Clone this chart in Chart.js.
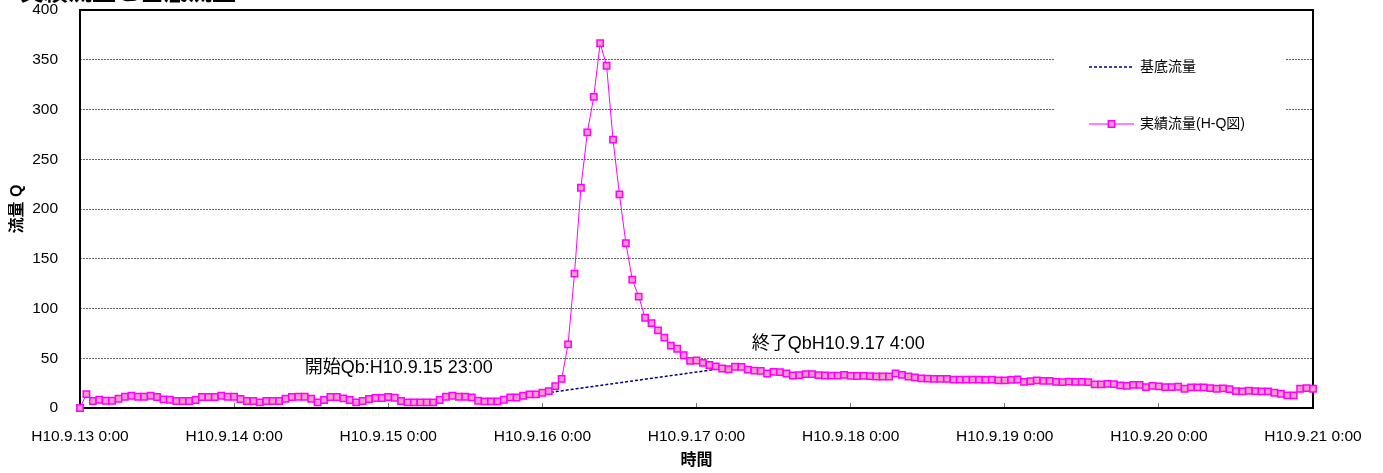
<!DOCTYPE html>
<html>
<head>
<meta charset="utf-8">
<script src="https://cdn.jsdelivr.net/npm/chart.js@4/dist/chart.umd.min.js"></script>
<style>
html,body{margin:0;padding:0;background:#fff;}
#wrap{width:1383px;height:473px;position:relative;}
</style>
</head>
<body>
<div id="wrap"><canvas id="c" width="1383" height="473"></canvas></div>
<script>
// ---- data (hourly, starting H10.9.13 0:00) ----
const chartTitle = '実績流量と基底流量';
const dayLabels = ['H10.9.13 0:00','H10.9.14 0:00','H10.9.15 0:00','H10.9.16 0:00','H10.9.17 0:00','H10.9.18 0:00','H10.9.19 0:00','H10.9.20 0:00','H10.9.21 0:00'];
const actualFlow = [
  0, 14, 7, 8.3, 7.3, 7.3, 9.3, 11.3, 12.3, 11.3, 11.3, 12.3, 11, 8.7, 8.3, 7, 7, 7, 8, 11, 11, 11, 12.3, 11.3,
  11.3, 9, 7, 7, 5.7, 7, 7, 7, 9.3, 11, 11.3, 11.3, 9.3, 5.7, 8, 11, 11, 9.7, 8, 5.7, 7, 9, 10, 10,
  11, 10.3, 7, 5.7, 5.7, 5.7, 5.7, 5.7, 8, 11.3, 12.3, 11.3, 11.3, 10.7, 7.3, 6.7, 6.7, 6.7, 8.3, 10.7, 10.5, 12.3, 13.7, 13.7,
  15.3, 17, 22, 29.3, 64, 135, 221.3, 277, 312.7, 366.7, 344, 269.7, 214.7, 165.7, 129, 112, 90.7, 85.3, 78, 70.7, 62.7, 59.5, 53, 47.3,
  47.7, 45.3, 43.2, 41.8, 39.7, 39, 41.5, 41.3, 38.5, 37.5, 37.3, 34.7, 36.3, 36, 34.7, 32.7, 33, 34, 34, 33, 32.7, 32.5, 32.5, 33.3,
  32.3, 32.2, 32.3, 32.1, 31.7, 31.7, 31.7, 34.7, 33.3, 31.7, 30.8, 29.8, 29.5, 29.3, 29.3, 29.3, 28.5, 28.5, 28.5, 28.5, 28.5, 28.3, 28.5, 27.8,
  27.7, 28.3, 28.7, 26.3, 27, 27.7, 27.3, 27.3, 26.3, 26, 26.5, 26.3, 26.3, 26, 23.7, 23.7, 24.3, 24, 22.7, 22.3, 23.3, 23.3, 21, 22.3,
  21.7, 21, 21, 21.3, 19.3, 20.7, 20.7, 20.7, 20, 19.3, 19.7, 19, 17, 16.7, 17.3, 17, 16.7, 16.7, 15.3, 14.3, 12.7, 12.7, 19.3, 20,
  19.3
];
const baseHours = [71, 100];
const baseFlow = [13.7, 39.7];
const seriesNames = ['基底流量', '実績流量(H-Q図)'];
const axisTitles = { x: '時間', y: '流量 Q' };
const notes = [
  { text: '開始Qb:H10.9.15 23:00', hour: 35.0, value: 40.2 },
  { text: '終了QbH10.9.17 4:00', hour: 104.6, value: 64.3 }
];

const FONT = "'Liberation Sans', 'Noto Sans CJK JP', Arial, sans-serif";

// chart title (its upper part sits above the canvas edge, as in the reference)
const titlePlugin = {
  id: 'topTitle',
  afterDraw(chart) {
    const { ctx } = chart;
    ctx.save();
    ctx.fillStyle = '#000';
    ctx.font = 'bold 24px ' + FONT;
    ctx.textBaseline = 'alphabetic';
    ctx.textAlign = 'left';
    ctx.fillText(chartTitle, 20, 0);
    ctx.restore();
  }
};

// frame around plot area
const framePlugin = {
  id: 'frame',
  beforeDatasetsDraw(chart) {
    const { ctx, chartArea: a } = chart;
    ctx.save();
    ctx.strokeStyle = '#000';
    ctx.lineWidth = 2;
    ctx.strokeRect(a.left, a.top, a.right - a.left, a.bottom - a.top);
    ctx.restore();
  }
};

// legend box inside plot area (top-right)
const legendPlugin = {
  id: 'innerLegend',
  afterDatasetsDraw(chart) {
    const { ctx, chartArea: a } = chart;
    const ds = chart.data.datasets;
    const x0 = a.right - 258, y0 = a.top + 28;
    ctx.save();
    ctx.fillStyle = '#fff';
    ctx.fillRect(x0, y0, 230, 112);
    const rows = [ds[1], ds[0]];
    const ys = [a.top + 57, a.top + 114];
    rows.forEach((d, i) => {
      const y = ys[i];
      const lx1 = a.right - 224, lx2 = a.right - 179;
      ctx.beginPath();
      ctx.strokeStyle = d.borderColor;
      ctx.lineWidth = d.borderWidth;
      ctx.setLineDash(d.borderDash || []);
      ctx.moveTo(lx1, y); ctx.lineTo(lx2, y);
      ctx.stroke();
      ctx.setLineDash([]);
      if (d.pointRadius > 0) {
        ctx.fillStyle = d.pointBackgroundColor;
        ctx.strokeStyle = d.pointBorderColor;
        ctx.lineWidth = d.pointBorderWidth;
        ctx.beginPath();
        const s = Math.SQRT1_2 * d.pointRadius;
        ctx.rect((lx1 + lx2) / 2 - s, y - s, 2 * s, 2 * s);
        ctx.fill(); ctx.stroke();
      }
      ctx.fillStyle = '#000';
      ctx.font = '14px ' + FONT;
      ctx.textBaseline = 'middle';
      ctx.textAlign = 'left';
      ctx.fillText(d.label, a.right - 173, y);
    });
    ctx.restore();
  }
};

// text annotations placed in data coordinates
const notesPlugin = {
  id: 'notes',
  afterDatasetsDraw(chart) {
    const { ctx } = chart;
    const xs = chart.scales.x, ys = chart.scales.y;
    ctx.save();
    ctx.fillStyle = '#000';
    ctx.font = '18px ' + FONT;
    ctx.textBaseline = 'middle';
    ctx.textAlign = 'left';
    notes.forEach(n => {
      ctx.fillText(n.text, xs.getPixelForValue(n.hour), ys.getPixelForValue(n.value));
    });
    ctx.restore();
  }
};

new Chart(document.getElementById('c'), {
  type: 'line',
  data: {
    datasets: [
      {
        label: seriesNames[1],
        data: actualFlow.map((v, i) => ({ x: i, y: v })),
        borderColor: '#ff00ff',
        borderWidth: 1,
        pointStyle: 'rect',
        pointRadius: 4.5,
        pointBackgroundColor: '#f799c9',
        pointBorderColor: '#ff00ff',
        pointBorderWidth: 1.5,
        tension: 0,
        clip: false,
        order: 0
      },
      {
        label: seriesNames[0],
        data: baseHours.map((h, i) => ({ x: h, y: baseFlow[i] })),
        borderColor: '#000080',
        borderWidth: 1.5,
        borderDash: [3, 2],
        pointRadius: 0,
        tension: 0,
        order: 1
      }
    ]
  },
  options: {
    responsive: false,
    animation: false,
    devicePixelRatio: 1,
    layout: { padding: { left: 20, right: 70, top: 10, bottom: 0 } },
    plugins: {
      legend: { display: false },
      tooltip: { enabled: false },
      title: { display: false }
    },
    scales: {
      x: {
        type: 'linear',
        min: 0,
        max: 192,
        afterFit(s) { s.height = 65; s.paddingLeft = 0; s.paddingRight = 0; },
        border: { display: false },
        grid: { drawOnChartArea: false, drawTicks: true, tickLength: -5, color: '#777' },
        ticks: {
          stepSize: 24,
          autoSkip: false,
          maxRotation: 0,
          padding: 24,
          color: '#000',
          font: { family: FONT, size: 15.5 },
          callback: (v) => dayLabels[v / 24]
        },
        title: {
          display: true,
          text: axisTitles.x,
          color: '#000',
          font: { family: FONT, size: 16, weight: 'bold' },
          padding: { top: 0, bottom: 3 }
        }
      },
      y: {
        min: 0,
        max: 400,
        afterFit(s) { s.width = 60; s.paddingTop = 0; s.paddingBottom = 0; },
        border: { display: false, dash: [2, 1] },
        grid: { drawTicks: false, color: '#666', lineWidth: 1 },
        ticks: {
          stepSize: 50,
          padding: 22,
          color: '#000',
          font: { family: FONT, size: 15.5 }
        },
        title: {
          display: true,
          text: axisTitles.y,
          color: '#000',
          font: { family: FONT, size: 16, weight: 'bold' },
          padding: { top: -12, bottom: 0 }
        }
      }
    }
  },
  plugins: [titlePlugin, framePlugin, legendPlugin, notesPlugin]
});
</script>
</body>
</html>
